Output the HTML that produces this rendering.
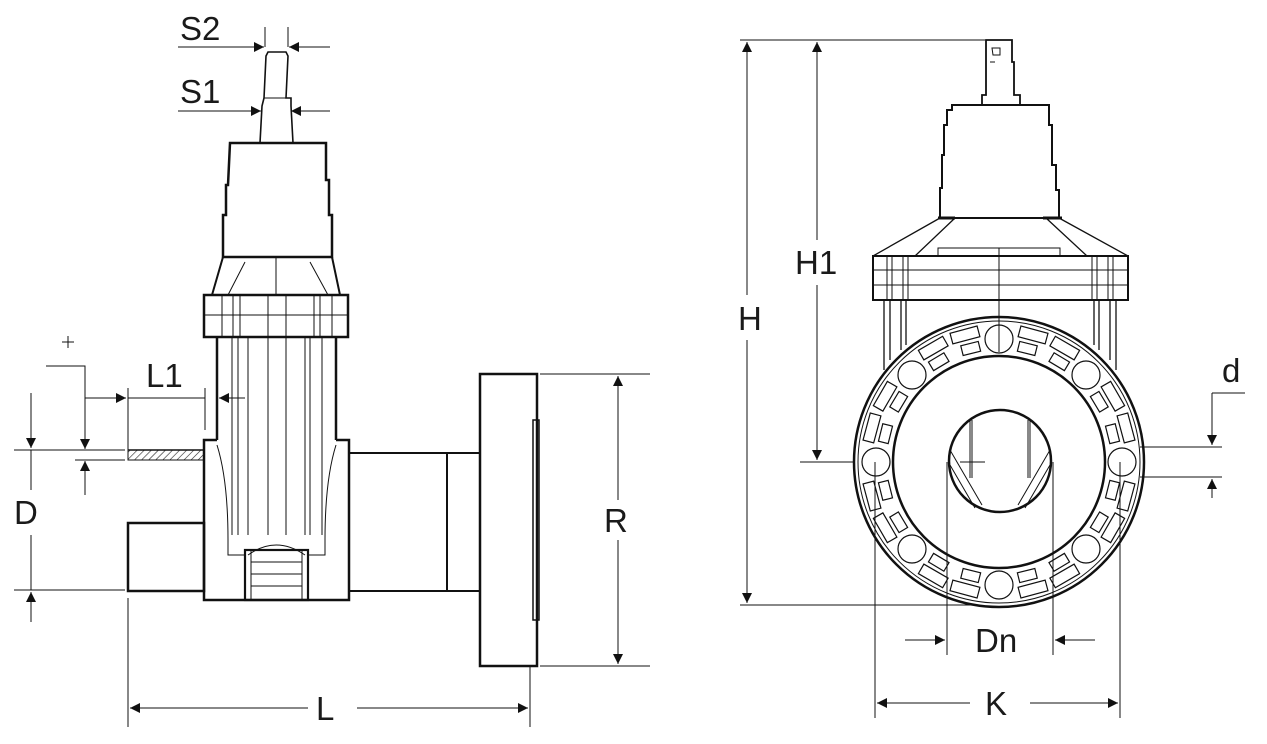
<!DOCTYPE html>
<html><head><meta charset="utf-8"><style>
html,body{margin:0;padding:0;background:#fff;}
svg{display:block;}
text{font-family:"Liberation Sans",sans-serif;font-size:33px;fill:#1a1a1a;}
</style></head><body>
<svg width="1267" height="744" viewBox="0 0 1267 744" xmlns="http://www.w3.org/2000/svg">
<defs>
<marker id="a" viewBox="0 0 10 10" refX="10" refY="5" markerWidth="20" markerHeight="10" markerUnits="userSpaceOnUse" orient="auto"><path d="M0,0 L10,5 L0,10 z" fill="#111"/></marker>
<pattern id="h" width="5" height="5" patternUnits="userSpaceOnUse" patternTransform="rotate(45)"><line x1="0" y1="0" x2="0" y2="5" stroke="#222" stroke-width="1.2"/></pattern>
</defs>
<g stroke="#111" fill="none" stroke-width="1">
<!-- S2 / S1 dims -->
<line x1="178" y1="47" x2="264" y2="47" marker-end="url(#a)"/>
<line x1="330" y1="47" x2="289" y2="47" marker-end="url(#a)"/>
<line x1="265" y1="27" x2="265" y2="47"/><line x1="288" y1="27" x2="288" y2="47"/>
<line x1="178" y1="111" x2="261" y2="111" marker-end="url(#a)"/>
<line x1="330" y1="111" x2="291" y2="111" marker-end="url(#a)"/>
<!-- stem -->
<path d="M268,52 L286,52 L288,56 L286,98 L291,98 L291,106 L293,143 L260,143 L262,106 L264,98 L266,56 Z" stroke-width="1.6"/>
<line x1="264" y1="98" x2="290" y2="98"/>
<!-- actuator -->
<path d="M230,143 L326,143 L326,180 L329,180 L329,215 L332,215 L332,257 L223,257 L223,215 L226,215 L226,185 L228,185 Z" stroke-width="2.5"/>
<path d="M223,257 L212,295 M332,257 L340,295" stroke-width="2"/>
<path d="M245,262 L228,295 M310,262 L328,295 M276,257 L276,295 M241,257 H252 M303,257 H313"/>
<!-- collar -->
<rect x="204" y="295" width="144" height="42" stroke-width="2.5"/>
<line x1="204" y1="315" x2="348" y2="315"/>
<path d="M222,295V337 M233,295V337 M240,295V337 M268,295V337 M286,295V337 M314,295V337 M320,295V337 M332,295V337"/>
<!-- column -->
<path d="M217,337 L217,440 M336,337 L336,440" stroke-width="2.5"/>
<path d="M232,337 V535 M238,337 V535 M248,337 V535 M268,337 V535 M286,337 V535 M305,337 V535 M310,337 V535 M322,337 V535"/>
<!-- body -->
<path d="M217,440 L204,440 L204,600 L349,600 L349,440 L336,440" stroke-width="2.5"/>
<path d="M217,445 Q228,480 228,540 L228,555 L245,555 M336,445 Q325,480 325,540 L325,555 L308,555"/>
<path d="M248,555 Q276,535 305,555"/>
<rect x="245" y="550" width="63" height="50" stroke-width="2.2"/>
<path d="M251,550V600 M302,550V600 M251,562H302 M251,574H302 M251,586H302"/>
<!-- left spigot -->
<rect x="128" y="450" width="76" height="10" fill="url(#h)"/>
<line x1="128" y1="450" x2="204" y2="450" stroke-width="1.5"/>
<line x1="128" y1="460" x2="204" y2="460"/>
<rect x="128" y="523" width="76" height="68" stroke-width="2.5"/>
<!-- right pipe & flange -->
<path d="M349,453 L480,453 M349,591 L480,591 M447,453 L447,591" stroke-width="2"/>
<rect x="480" y="374" width="57" height="292" stroke-width="2.5"/>
<rect x="533" y="420" width="6" height="200" stroke-width="1.5"/>
<!-- R dim -->
<path d="M540,374 H650 M540,666 H650"/>
<line x1="618" y1="500" x2="618" y2="376" marker-end="url(#a)"/>
<line x1="618" y1="540" x2="618" y2="664" marker-end="url(#a)"/>
<!-- L dim -->
<path d="M128,598 V727 M530,666 V727"/>
<line x1="308" y1="708" x2="130" y2="708" marker-end="url(#a)"/>
<line x1="357" y1="708" x2="528" y2="708" marker-end="url(#a)"/>
<!-- D dim -->
<path d="M14,450 H125 M14,590 H125"/>
<line x1="31" y1="393" x2="31" y2="448" marker-end="url(#a)"/>
<line x1="31" y1="450" x2="31" y2="490"/>
<line x1="31" y1="622" x2="31" y2="592" marker-end="url(#a)"/>
<line x1="31" y1="535" x2="31" y2="590"/>
<!-- thickness dim -->
<path d="M46,366 H85 V430 M75,460 H125"/>
<line x1="85" y1="420" x2="85" y2="449" marker-end="url(#a)"/>
<line x1="85" y1="495" x2="85" y2="461" marker-end="url(#a)"/>
<path d="M62,342 H74 M68,336 V348"/>
<!-- L1 -->
<line x1="85" y1="398" x2="126" y2="398" marker-end="url(#a)"/>
<line x1="128" y1="398" x2="205" y2="398"/>
<line x1="245" y1="398" x2="219" y2="398" marker-end="url(#a)"/>
<path d="M128,388 V450 M205,388 V430"/>

<!-- RIGHT VIEW dims -->
<path d="M740,40 H985 M740,605 H985 M800,462 H985"/>
<line x1="747" y1="295" x2="747" y2="42" marker-end="url(#a)"/>
<line x1="747" y1="340" x2="747" y2="603" marker-end="url(#a)"/>
<line x1="817" y1="240" x2="817" y2="42" marker-end="url(#a)"/>
<line x1="817" y1="285" x2="817" y2="460" marker-end="url(#a)"/>
<!-- stem top -->
<path d="M986,40 H1012 V62 H1014 V95 H1020 V105 H982 V95 H986 V62 Z" stroke-width="1.8"/>
<path d="M990,62 L995,62 M992,48 H1000 V55 H993 Z"/>
<!-- actuator -->
<path d="M952,105 L1049,105 L1049,125 L1052,125 L1052,165 L1056,165 L1056,190 L1059,190 L1059,218 L940,218 L940,188 L942,188 L942,155 L944,155 L944,125 L947,125 L947,110 L952,110 Z" stroke-width="2"/>
<path d="M940,218 L873,256 M1059,218 L1128,256 M955,218 L915,256 M1046,218 L1087,256" stroke-width="1.3"/>
<path d="M938,218 H955 M1043,218 H1062" stroke-width="3"/>
<rect x="938" y="248" width="122" height="8"/>
<rect x="873" y="256" width="255" height="44" stroke-width="2"/>
<path d="M873,270 H1128 M873,285 H1128"/>
<path d="M887,256V300 M892,256V300 M903,256V300 M908,256V300 M1092,256V300 M1097,256V300 M1108,256V300 M1113,256V300 M999,248 V318"/>
<path d="M884,300V370 M890,300V360 M901,300V350 M906,300V345 M1094,300V345 M1099,300V350 M1110,300V360 M1116,300V370" stroke-width="1.3"/>
<!-- flange ring -->
<circle cx="999" cy="462" r="145" stroke-width="2.5" fill="#fff"/>
<circle cx="999" cy="462" r="141"/>
<circle cx="999" cy="462" r="106" stroke-width="2.5"/>
<g stroke-width="1.2">
<circle cx="999" cy="339" r="14"/><circle cx="999" cy="585" r="14"/>
<circle cx="876" cy="462" r="14"/><circle cx="1122" cy="462" r="14"/>
<circle cx="912" cy="375" r="14"/><circle cx="1086" cy="375" r="14"/>
<circle cx="912" cy="549" r="14"/><circle cx="1086" cy="549" r="14"/>
<g transform="translate(999,462)">
<g id="pk">
<rect x="-14" y="-137" width="28" height="11" transform="rotate(15)"/>
<rect x="-14" y="-137" width="28" height="11" transform="rotate(30)"/>
<rect x="-9" y="-122" width="18" height="10" transform="rotate(14)"/>
<rect x="-9" y="-122" width="18" height="10" transform="rotate(31)"/>
</g>
<use href="#pk" transform="rotate(45)"/><use href="#pk" transform="rotate(90)"/><use href="#pk" transform="rotate(135)"/>
<use href="#pk" transform="rotate(180)"/><use href="#pk" transform="rotate(225)"/><use href="#pk" transform="rotate(270)"/><use href="#pk" transform="rotate(315)"/>
</g>
</g>
<!-- bore -->
<circle cx="1000" cy="461" r="51" stroke-width="2.5"/>
<path d="M970,420 V478 M972,420 V478 M1028,420 V478 M1030,420 V478 M950,450 L982,505 M950,465 L975,508 M1050,450 L1018,505 M1050,465 L1025,508 M960,462 H985"/>
<line x1="999" y1="318" x2="999" y2="352"/>
<!-- d dim -->
<path d="M1140,447 H1222 M1140,477 H1222 M1212,393 H1245"/>
<line x1="1212" y1="393" x2="1212" y2="445" marker-end="url(#a)"/>
<line x1="1212" y1="498" x2="1212" y2="479" marker-end="url(#a)"/>
<!-- Dn -->
<path d="M947,462 V655 M1053,462 V655"/>
<line x1="905" y1="640" x2="945" y2="640" marker-end="url(#a)"/>
<line x1="1095" y1="640" x2="1055" y2="640" marker-end="url(#a)"/>
<!-- K -->
<path d="M875,462 V718 M1120,462 V718"/>
<line x1="970" y1="703" x2="877" y2="703" marker-end="url(#a)"/>
<line x1="1030" y1="703" x2="1118" y2="703" marker-end="url(#a)"/>
</g>
<g stroke="none">
<text x="180" y="40">S2</text>
<text x="180" y="103">S1</text>
<text x="146" y="387">L1</text>
<text x="14" y="524">D</text>
<text x="604" y="532">R</text>
<text x="316" y="720">L</text>
<text x="738" y="330">H</text>
<text x="795" y="274">H1</text>
<text x="1222" y="382">d</text>
<text x="975" y="652">Dn</text>
<text x="985" y="715">K</text>
</g>
</svg>
</body></html>
